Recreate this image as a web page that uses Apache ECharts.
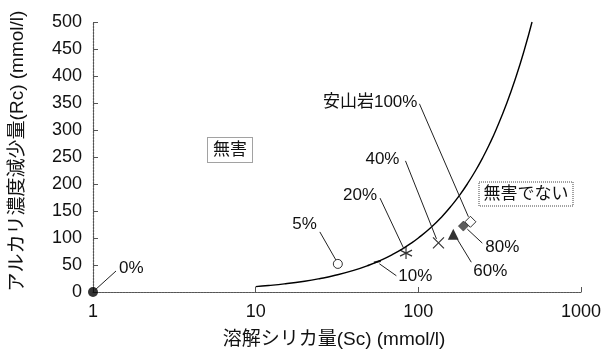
<!DOCTYPE html>
<html><head><meta charset="utf-8">
<script src="https://cdn.jsdelivr.net/npm/echarts@6/dist/echarts.min.js"></script>
<style>html,body{margin:0;padding:0;background:#fff}#c{width:608px;height:356px}</style>
</head><body><div id="c"></div>
<script>
// ---- data ----
const xTickValues = [1, 10, 100, 1000];
const yTickValues = [0, 50, 100, 150, 200, 250, 300, 350, 400, 450, 500];
const curveSc = [10, 12, 15, 20, 25, 30, 40, 50, 60, 70, 80, 90, 100, 120, 140, 160, 180, 200, 225, 250, 275, 300, 350, 400, 450, 500];
const curveRc = [10, 12, 15, 20, 25, 30, 40, 50, 60, 70, 80, 90, 100, 120, 140, 160, 180, 200, 225, 250, 275, 300, 350, 400, 450, 500];
const pointLabels = ['0%', '5%', '10%', '20%', '40%', '60%', '安山岩100%', '80%'];
const pointSc = [1, 32, 56, 84, 133, 164, 209, 189];
const pointRc = [0, 52, 56, 72, 91, 107, 130, 122];
const xName = '溶解シリカ量(Sc) (mmol/l)';
const yName = 'アルカリ濃度減少量(Rc) (mmol/l)';
const regionLabels = ['無害', '無害でない'];

// ---- styles ----
const FONT = '"Liberation Sans", Arial, "Noto Sans CJK JP", sans-serif';
const asterisk = 'path://M10 0 L10 20 M1.34 5 L18.66 15 M1.34 15 L18.66 5';
const cross = 'path://M0 0 L20 20 M0 20 L20 0';
const markerStyles = [
  {symbol: 'circle', size: 10, itemStyle: {color: '#000'}},
  {symbol: 'circle', size: 9, itemStyle: {color: '#fff', borderColor: '#000', borderWidth: 1}},
  {symbol: 'rect', size: [7, 2], rotate: 12, itemStyle: {color: '#000'}},
  {symbol: asterisk, size: 12, itemStyle: {color: 'none', borderColor: '#000', borderWidth: 1.2}},
  {symbol: cross, size: 11, itemStyle: {color: 'none', borderColor: '#000', borderWidth: 1.2}},
  {symbol: 'triangle', size: 11, itemStyle: {color: '#000'}},
  {symbol: 'diamond', size: 11, itemStyle: {color: '#fff', borderColor: '#000', borderWidth: 1}},
  {symbol: 'diamond', size: 10, itemStyle: {color: '#333', borderColor: '#000', borderWidth: 0.5}}
];
// leader line start/end and text anchor offsets (pixels, relative to marker)
const leaders = [
  {s: [2, -2], e: [23, -21], t: [26, -24], align: 'left'},
  {s: [-2, -4], e: [-18, -32], t: [-21, -40], align: 'right'},
  {s: [2, 2], e: [19, 14], t: [21, 15], align: 'left'},
  {s: [-2, -4], e: [-26, -55], t: [-29, -58], align: 'right'},
  {s: [-2, -4], e: [-33, -82], t: [-39, -84], align: 'right'},
  {s: [4, 5], e: [18, 28], t: [20, 37], align: 'left'},
  {s: [-2, -5], e: [-51, -118], t: [-53, -119], align: 'right'},
  {s: [4, 3], e: [19, 17], t: [22, 21], align: 'left'}
];

const chart = echarts.init(document.getElementById('c'), null, {renderer: 'canvas'});
const axisLine = {show: true, lineStyle: {color: '#555', width: 1.2, type: [2, 1]}};
chart.setOption({
  animation: false,
  backgroundColor: '#fff',
  grid: {left: 93, right: 27, top: 22, bottom: 64, containLabel: false},
  xAxis: {
    type: 'log', logBase: 10, min: 1, max: 1000,
    axisLine: axisLine,
    axisTick: {show: true, inside: true, length: 5, lineStyle: {color: '#555'}},
    minorTick: {show: false},
    splitLine: {show: false},
    axisLabel: {fontFamily: FONT, fontSize: 18, color: '#111', margin: 11,
      formatter: v => (xTickValues.indexOf(Math.round(v)) >= 0 ? String(Math.round(v)) : '')}
  },
  yAxis: {
    type: 'value', min: 0, max: 500, interval: 50,
    axisLine: axisLine,
    axisTick: {show: true, inside: true, length: 5, lineStyle: {color: '#555'}},
    splitLine: {show: false},
    axisLabel: {fontFamily: FONT, fontSize: 18, color: '#111', margin: 11,
      formatter: v => (yTickValues.indexOf(v) >= 0 ? String(v) : '')}
  },
  series: [
    {
      type: 'line', data: curveSc.map((x, i) => [x, curveRc[i]]),
      showSymbol: false, smooth: true, lineStyle: {color: '#000', width: 1.4}, z: 2
    },
    {
      type: 'scatter', z: 3,
      data: pointSc.map((x, i) => ({
        value: [x, pointRc[i]],
        symbol: markerStyles[i].symbol,
        symbolSize: markerStyles[i].size,
        symbolRotate: markerStyles[i].rotate || 0,
        itemStyle: markerStyles[i].itemStyle
      }))
    }
  ]
});

const graphics = [];
pointSc.forEach((x, i) => {
  const p = chart.convertToPixel({gridIndex: 0}, [x, pointRc[i]]);
  const L = leaders[i];
  graphics.push({
    type: 'line', silent: true, z: 10,
    shape: {x1: p[0] + L.s[0], y1: p[1] + L.s[1], x2: p[0] + L.e[0], y2: p[1] + L.e[1]},
    style: {stroke: '#222', lineWidth: 1}
  });
  graphics.push({
    type: 'text', silent: true, z: 10,
    x: p[0] + L.t[0], y: p[1] + L.t[1],
    style: {text: pointLabels[i], fill: '#111', font: '17px ' + FONT, align: L.align, verticalAlign: 'middle'}
  });
});
const boxes = [
  {cx: 230, cy: 150, w: 45, h: 25},
  {cx: 526, cy: 194, w: 94, h: 24}
];
boxes.forEach((b, i) => {
  graphics.push({
    type: 'rect', silent: true, z: 10,
    shape: {x: b.cx - b.w / 2, y: b.cy - b.h / 2, width: b.w, height: b.h},
    style: {fill: '#fff', stroke: '#444', lineWidth: 1, lineDash: [1, 1]}
  });
  graphics.push({
    type: 'text', silent: true, z: 11, x: b.cx, y: b.cy,
    style: {text: regionLabels[i], fill: '#111', font: '17px ' + FONT, align: 'center', verticalAlign: 'middle'}
  });
});
// axis titles
graphics.push({
  type: 'text', silent: true, x: 334, y: 340,
  style: {text: xName, fill: '#111', font: '19px ' + FONT, align: 'center', verticalAlign: 'middle'}
});
graphics.push({
  type: 'text', silent: true, x: 18, y: 151, rotation: Math.PI / 2,
  style: {text: yName, fill: '#111', font: '19px ' + FONT, align: 'center', verticalAlign: 'middle'}
});
chart.setOption({graphic: graphics});
</script>
</body></html>
